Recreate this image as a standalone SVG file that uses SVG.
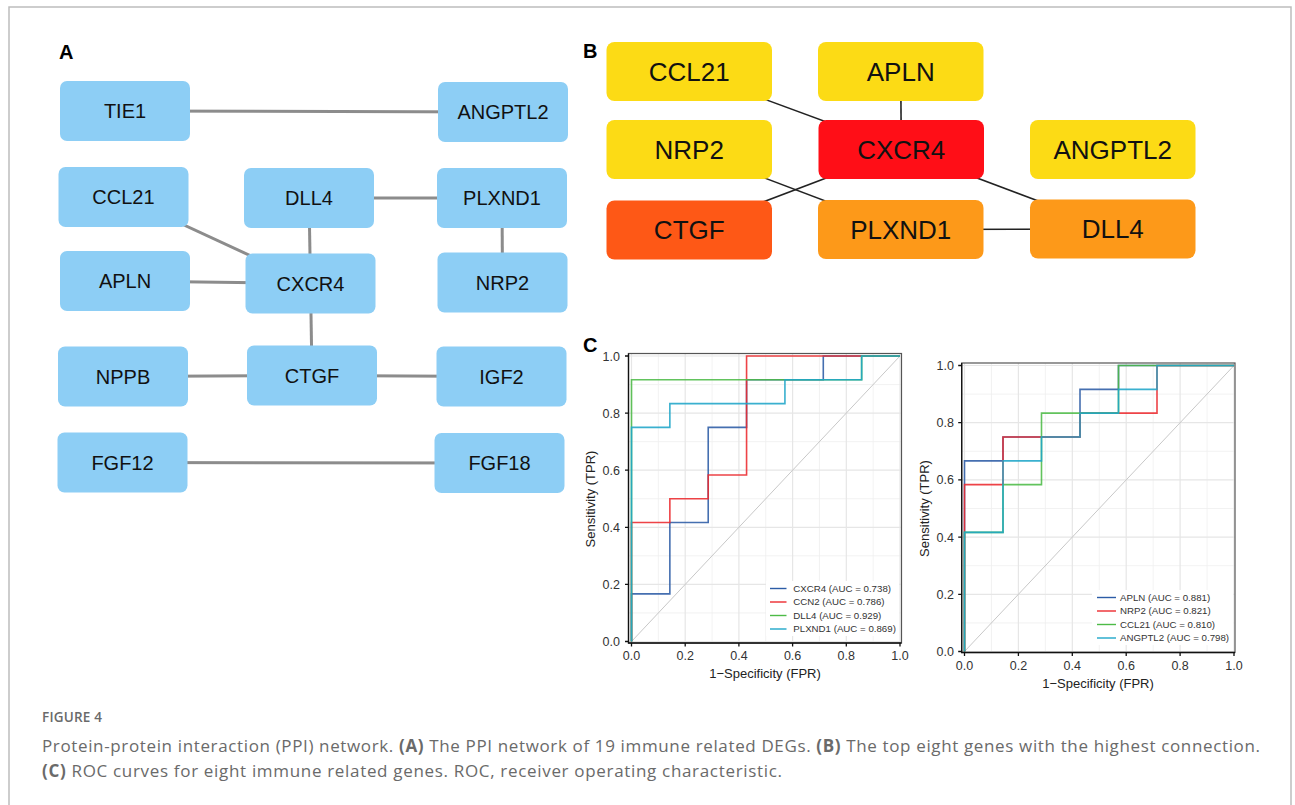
<svg xmlns="http://www.w3.org/2000/svg" width="1295" height="805" viewBox="0 0 1295 805">
<style>
.bg{fill:#fff}
.frame{fill:none;stroke:#bdbdbd;stroke-width:1.5}
.plabel{font-family:"Liberation Sans",Arial,sans-serif;font-weight:bold;fill:#000}
.na rect{fill:#8dcef5}
.na text{font-family:"Liberation Sans",Arial,sans-serif;font-size:20px;fill:#111;text-anchor:middle}
.nb text{font-family:"Liberation Sans",Arial,sans-serif;font-size:26px;fill:#111;text-anchor:middle}
.ea line{stroke:#8c8c8c;stroke-width:3}
.eb line{stroke:#222;stroke-width:1.6}
.yel{fill:#fcdb15}
.red{fill:#ff0e17}
.org{fill:#fe5816}
.amb{fill:#fd9919}
.panel{fill:#fff}
.gmaj{stroke:#e6e6e6;stroke-width:1.2;fill:none}
.gmin{stroke:#efefef;stroke-width:0.8;fill:none}
.border{fill:none;stroke:#555;stroke-width:1.2}
.axis{stroke:#111;stroke-width:1.3;fill:none}
.diag{stroke:#c8c8c8;stroke-width:1;fill:none}
.tick{font-family:"Liberation Sans",Arial,sans-serif;font-size:12.5px;fill:#333}
.ty{text-anchor:end}
.tx{text-anchor:middle}
.atitle{font-family:"Liberation Sans",Arial,sans-serif;font-size:13px;fill:#222;text-anchor:middle}
.roc{fill:none;stroke-width:1.6;vector-effect:non-scaling-stroke;opacity:0.88}
.cb{stroke:#2c5ca6}
.cr{stroke:#ec2a2e}
.cg{stroke:#4dbb47}
.cc{stroke:#1fa6c9}
.leg text{font-family:"Liberation Sans",Arial,sans-serif;font-size:9.7px;fill:#333}
.leg line{stroke-width:1.4}
.cap{font-family:"Open Sans","Lato","Liberation Sans",sans-serif;fill:#6a6a6a}
</style>
<rect class="bg" x="0" y="0" width="1295" height="805"/>
<path class="frame" d="M9,805 V7 H1291 V805"/>

<!-- Panel A -->
<text class="plabel" x="59" y="59" font-size="20">A</text>
<g id="edges-a" class="ea">
<line x1="125" y1="111" x2="503" y2="112"/>
<line x1="123.5" y1="197" x2="310.5" y2="283.5"/>
<line x1="125" y1="281" x2="310.5" y2="283.5"/>
<line x1="309" y1="198" x2="310.5" y2="283.5"/>
<line x1="309" y1="198" x2="502" y2="198"/>
<line x1="502" y1="198" x2="502.5" y2="282.5"/>
<line x1="310.5" y1="283.5" x2="312" y2="375.5"/>
<line x1="123" y1="376.5" x2="312" y2="375.5"/>
<line x1="312" y1="375.5" x2="501.5" y2="376.5"/>
<line x1="122.5" y1="462.5" x2="499.5" y2="463"/>
</g>
<g id="a-tie1" class="na"><rect x="60" y="81" width="130" height="60" rx="7"/><text x="125" y="118.2">TIE1</text></g>
<g id="a-angptl2" class="na"><rect x="438" y="82" width="130" height="60" rx="7"/><text x="503" y="119.2">ANGPTL2</text></g>
<g id="a-ccl21" class="na"><rect x="58.5" y="167" width="130" height="60" rx="7"/><text x="123.5" y="204.2">CCL21</text></g>
<g id="a-dll4" class="na"><rect x="244" y="168" width="130" height="60" rx="7"/><text x="309" y="205.2">DLL4</text></g>
<g id="a-plxnd1" class="na"><rect x="437" y="168" width="130" height="60" rx="7"/><text x="502" y="205.2">PLXND1</text></g>
<g id="a-apln" class="na"><rect x="60" y="251" width="130" height="60" rx="7"/><text x="125" y="288.2">APLN</text></g>
<g id="a-cxcr4" class="na"><rect x="245.5" y="253.5" width="130" height="60" rx="7"/><text x="310.5" y="290.7">CXCR4</text></g>
<g id="a-nrp2" class="na"><rect x="437.5" y="252.5" width="130" height="60" rx="7"/><text x="502.5" y="289.7">NRP2</text></g>
<g id="a-nppb" class="na"><rect x="58" y="346.5" width="130" height="60" rx="7"/><text x="123" y="383.7">NPPB</text></g>
<g id="a-ctgf" class="na"><rect x="247" y="345.5" width="130" height="60" rx="7"/><text x="312" y="382.7">CTGF</text></g>
<g id="a-igf2" class="na"><rect x="436.5" y="346.5" width="130" height="60" rx="7"/><text x="501.5" y="383.7">IGF2</text></g>
<g id="a-fgf12" class="na"><rect x="57.5" y="432.5" width="130" height="60" rx="7"/><text x="122.5" y="469.7">FGF12</text></g>
<g id="a-fgf18" class="na"><rect x="434.5" y="433" width="130" height="60" rx="7"/><text x="499.5" y="470.2">FGF18</text></g>

<!-- Panel B -->
<text class="plabel" x="583" y="58" font-size="20">B</text>
<g id="edges-b" class="eb">
<line x1="689.25" y1="71.5" x2="901.25" y2="149.5"/>
<line x1="900.75" y1="71.5" x2="901.25" y2="149.5"/>
<line x1="689.25" y1="149.5" x2="900.75" y2="229.5"/>
<line x1="689.25" y1="230" x2="901.25" y2="149.5"/>
<line x1="901.25" y1="149.5" x2="1112.75" y2="229"/>
<line x1="900.75" y1="229.5" x2="1112.75" y2="229"/>
</g>
<g id="b-ccl21" class="nb"><rect class="yel" x="606.5" y="42" width="165.5" height="59" rx="8"/><text x="689.25" y="80.8">CCL21</text></g>
<g id="b-apln" class="nb"><rect class="yel" x="818" y="42" width="165.5" height="59" rx="8"/><text x="900.75" y="80.8">APLN</text></g>
<g id="b-nrp2" class="nb"><rect class="yel" x="606.5" y="120" width="165.5" height="59" rx="8"/><text x="689.25" y="158.8">NRP2</text></g>
<g id="b-cxcr4" class="nb"><rect class="red" x="818.5" y="120" width="165.5" height="59" rx="8"/><text x="901.25" y="158.8">CXCR4</text></g>
<g id="b-angptl2" class="nb"><rect class="yel" x="1030" y="120" width="165.5" height="59" rx="8"/><text x="1112.75" y="158.8">ANGPTL2</text></g>
<g id="b-ctgf" class="nb"><rect class="org" x="606.5" y="200.5" width="165.5" height="59" rx="8"/><text x="689.25" y="239.3">CTGF</text></g>
<g id="b-plxnd1" class="nb"><rect class="amb" x="818" y="200" width="165.5" height="59" rx="8"/><text x="900.75" y="238.8">PLXND1</text></g>
<g id="b-dll4" class="nb"><rect class="amb" x="1030" y="199.5" width="165.5" height="59" rx="8"/><text x="1112.75" y="238.3">DLL4</text></g>

<!-- Panel C -->
<text class="plabel" x="583" y="352" font-size="20">C</text>

<!-- Left ROC plot -->
<g id="roc-left">
<rect class="panel" x="628.5" y="353.5" width="273" height="289.5"/>
<path class="gmin" d="M658.35,353.5V643M712.05,353.5V643M765.75,353.5V643M819.45,353.5V643M873.15,353.5V643M628.5,612.95H901.5M628.5,555.85H901.5M628.5,498.75H901.5M628.5,441.65H901.5M628.5,384.55H901.5"/>
<path class="gmaj" d="M631.5,353.5V643M685.2,353.5V643M738.9,353.5V643M792.6,353.5V643M846.3,353.5V643M900,353.5V643M628.5,641.5H901.5M628.5,584.4H901.5M628.5,527.3H901.5M628.5,470.2H901.5M628.5,413.1H901.5M628.5,356H901.5"/>
<line class="diag" x1="631.5" y1="641.5" x2="900" y2="356"/>
<g transform="translate(631.5,641.5) scale(268.5,-285.5)">
<path class="roc cb" d="M0,0V0.166667H0.142857V0.416667H0.285714V0.75H0.428571V0.916667H0.714286V1H1"/>
<path class="roc cr" d="M0,0V0.416667H0.142857V0.5H0.285714V0.583333H0.428571V1H1"/>
<path class="roc cg" d="M0,0V0.916667H0.857143V1H1"/>
<path class="roc cc" d="M0,0V0.75H0.142857V0.833333H0.571429V0.916667H0.857143V1H1"/>
</g>
<g class="leg">
<rect x="766" y="581" width="133" height="55" fill="#fff"/>
<line class="cb" x1="770" y1="588.5" x2="786.5" y2="588.5"/><text x="793.3" y="591.8">CXCR4 (AUC = 0.738)</text>
<line class="cr" x1="770" y1="602" x2="786.5" y2="602"/><text x="793.3" y="605.3">CCN2 (AUC = 0.786)</text>
<line class="cg" x1="770" y1="615.5" x2="786.5" y2="615.5"/><text x="793.3" y="618.8">DLL4 (AUC = 0.929)</text>
<line class="cc" x1="770" y1="629" x2="786.5" y2="629"/><text x="793.3" y="632.3">PLXND1 (AUC = 0.869)</text>
</g>
<rect class="border" x="628.5" y="353.5" width="273" height="289.5"/>
<path class="axis" d="M628.5,353.5V643H901.5"/>
<path class="axis" d="M625,641.5H628.5M625,584.4H628.5M625,527.3H628.5M625,470.2H628.5M625,413.1H628.5M625,356H628.5M631.5,643V646.5M685.2,643V646.5M738.9,643V646.5M792.6,643V646.5M846.3,643V646.5M900,643V646.5"/>
<text class="tick ty" x="620" y="646">0.0</text>
<text class="tick ty" x="620" y="588.9">0.2</text>
<text class="tick ty" x="620" y="531.8">0.4</text>
<text class="tick ty" x="620" y="474.7">0.6</text>
<text class="tick ty" x="620" y="417.6">0.8</text>
<text class="tick ty" x="620" y="360.5">1.0</text>
<text class="tick tx" x="631.5" y="660">0.0</text>
<text class="tick tx" x="685.2" y="660">0.2</text>
<text class="tick tx" x="738.9" y="660">0.4</text>
<text class="tick tx" x="792.6" y="660">0.6</text>
<text class="tick tx" x="846.3" y="660">0.8</text>
<text class="tick tx" x="900" y="660">1.0</text>
<text class="atitle" x="765" y="678">1−Specificity (FPR)</text>
<text class="atitle" transform="translate(594.5,499) rotate(-90)" x="0" y="0">Sensitivity (TPR)</text>
</g>

<!-- Right ROC plot -->
<g id="roc-right">
<rect class="panel" x="961.7" y="363" width="273.3" height="289.5"/>
<path class="gmin" d="M991.45,363V652.5M1045.35,363V652.5M1099.25,363V652.5M1153.15,363V652.5M1207.05,363V652.5M961.7,622.9H1235M961.7,565.7H1235M961.7,508.5H1235M961.7,451.3H1235M961.7,394.1H1235"/>
<path class="gmaj" d="M964.5,363V652.5M1018.4,363V652.5M1072.3,363V652.5M1126.2,363V652.5M1180.1,363V652.5M1234,363V652.5M961.7,651.5H1235M961.7,594.3H1235M961.7,537.1H1235M961.7,479.9H1235M961.7,422.7H1235M961.7,365.5H1235"/>
<line class="diag" x1="964.5" y1="651.5" x2="1234" y2="365.5"/>
<g transform="translate(964.5,651.5) scale(269.5,-286)">
<path class="roc cb" d="M0,0V0.666667H0.142857V0.75H0.428571V0.916667H0.571429V1H1"/>
<path class="roc cr" d="M0,0V0.583333H0.142857V0.75H0.428571V0.833333H0.714286V1H1"/>
<path class="roc cg" d="M0,0V0.416667H0.142857V0.583333H0.285714V0.833333H0.571429V1H1"/>
<path class="roc cc" d="M0,0V0.416667H0.142857V0.666667H0.285714V0.75H0.428571V0.833333H0.571429V0.916667H0.714286V1H1"/>
</g>
<g class="leg">
<rect x="1092" y="590" width="141" height="55" fill="#fff"/>
<line class="cb" x1="1097" y1="597.5" x2="1116" y2="597.5"/><text x="1120" y="600.8">APLN (AUC = 0.881)</text>
<line class="cr" x1="1097" y1="611" x2="1116" y2="611"/><text x="1120" y="614.3">NRP2 (AUC = 0.821)</text>
<line class="cg" x1="1097" y1="624.5" x2="1116" y2="624.5"/><text x="1120" y="627.8">CCL21 (AUC = 0.810)</text>
<line class="cc" x1="1097" y1="638" x2="1116" y2="638"/><text x="1120" y="641.3">ANGPTL2 (AUC = 0.798)</text>
</g>
<rect class="border" x="961.7" y="363" width="273.3" height="289.5"/>
<path class="axis" d="M961.7,363V652.5H1235"/>
<path class="axis" d="M958.2,651.5H961.7M958.2,594.3H961.7M958.2,537.1H961.7M958.2,479.9H961.7M958.2,422.7H961.7M958.2,365.5H961.7M964.5,652.5V656M1018.4,652.5V656M1072.3,652.5V656M1126.2,652.5V656M1180.1,652.5V656M1234,652.5V656"/>
<text class="tick ty" x="954" y="656">0.0</text>
<text class="tick ty" x="954" y="598.8">0.2</text>
<text class="tick ty" x="954" y="541.6">0.4</text>
<text class="tick ty" x="954" y="484.4">0.6</text>
<text class="tick ty" x="954" y="427.2">0.8</text>
<text class="tick ty" x="954" y="370">1.0</text>
<text class="tick tx" x="964.5" y="669.5">0.0</text>
<text class="tick tx" x="1018.4" y="669.5">0.2</text>
<text class="tick tx" x="1072.3" y="669.5">0.4</text>
<text class="tick tx" x="1126.2" y="669.5">0.6</text>
<text class="tick tx" x="1180.1" y="669.5">0.8</text>
<text class="tick tx" x="1234" y="669.5">1.0</text>
<text class="atitle" x="1098" y="687.5">1−Specificity (FPR)</text>
<text class="atitle" transform="translate(928.5,508.5) rotate(-90)" x="0" y="0">Sensitivity (TPR)</text>
</g>

<!-- Caption -->
<text class="cap" x="42" y="722" font-size="13.5" font-weight="600" letter-spacing="0.2">FIGURE 4</text>
<text class="cap" x="42" y="752" font-size="17" textLength="1218" lengthAdjust="spacing">Protein-protein interaction (PPI) network. <tspan font-weight="bold">(A)</tspan> The PPI network of 19 immune related DEGs. <tspan font-weight="bold">(B)</tspan> The top eight genes with the highest connection.</text>
<text class="cap" x="42" y="777" font-size="17" textLength="740" lengthAdjust="spacing"><tspan font-weight="bold">(C)</tspan> ROC curves for eight immune related genes. ROC, receiver operating characteristic.</text>
</svg>
